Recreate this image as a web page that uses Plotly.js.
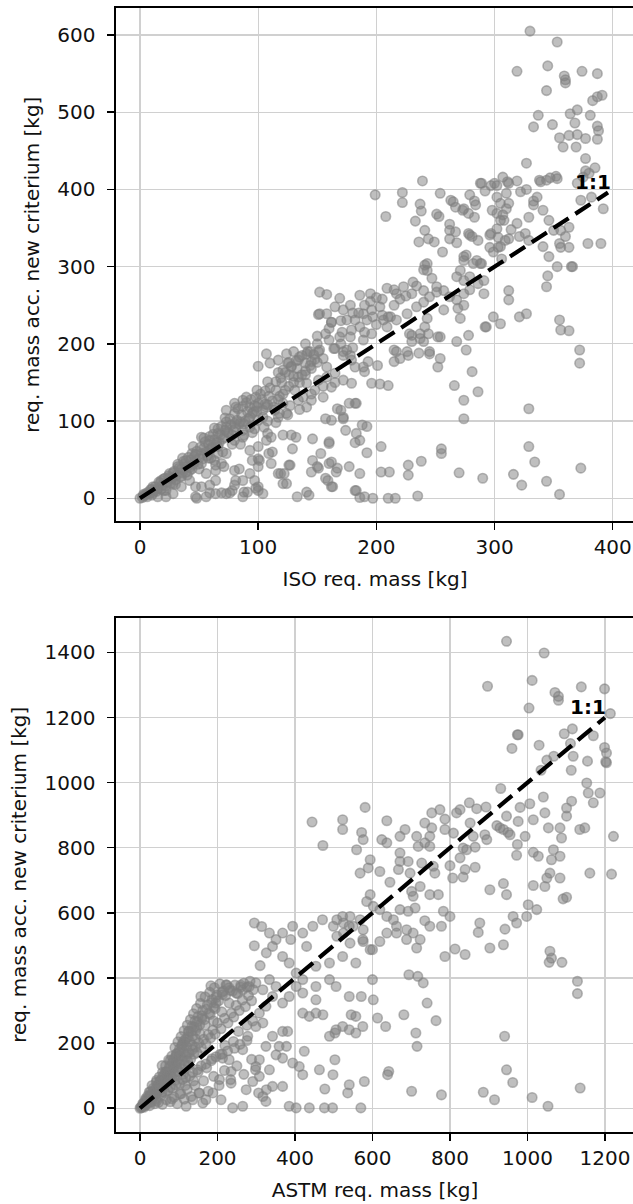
<!DOCTYPE html>
<html><head><meta charset="utf-8">
<script src="https://cdn.plot.ly/plotly-3.0.1.min.js"></script>
<style>html,body{margin:0;padding:0;overflow:hidden;background:#fff}#chart{width:634px;height:1204px}</style>
</head><body><div id="chart"></div><script>
// ISO (top panel): [ISO req. mass, req. mass acc. new criterium]
const isoPoints = [
[330,605],[353,591],[319,553],[345,560],[359,547],[360,542],[360,538],[374,553],[387,550],[344,528],[383,515],[387,520],[391,522],[337,496],[364,498],[370,503],[381,496],[333,481],[349,484],[368,486],[387,482],[388,476],[387,465],[355,467],[363,470],[370,471],[377,466],[358,455],[369,455],[377,440],[327,434],[352,417],[377,424],[385,428],[338,412],[347,415],[289,408],[300,408],[307,416],[319,411],[311,410],
[199,393],[208,365],[222,396],[222,383],[239,411],[233,359],[254,395],[237,381],[238,372],[251,368],[253,365],[241,347],[244,336],[236,332],[249,332],[263,386],[267,377],[262,355],[262,347],[262,336],[268,331],[256,319],[240,296],[243,304],[279,393],[288,408],[283,385],[284,380],[273,373],[278,369],[283,364],[278,343],[281,339],[286,334],[274,313],[285,308],[289,304],[271,295],[279,287],[292,398],[297,405],[302,390],[305,382],[310,375],[298,373],[302,369],[308,360],[297,343],[305,326],[309,334],[299,319],[306,310],[321,339],[326,343],[329,334],[314,348],[319,356],[329,364],[322,397],[327,400],[336,390],[339,410],[344,412],[353,414],[333,385],[333,380],[341,373],[346,360],[350,347],[341,326],[346,313],[345,288],[344,274],[353,300],[356,347],[360,339],[363,351],[355,330],[356,325],[363,325],[365,300],[366,300],[379,330],[390,330],[392,375],[373,386],[382,390],[370,408],[375,416],[380,421],
[265,384],[267,345],[274,375],[279,341],[296,341],[303,338],[296,325],[303,325],[305,360],[307,367],[302,349],[302,405],[312,408],[310,395],[312,382],[312,336],
[241,302],[243,295],[247,285],[251,274],[240,269],[234,275],[152,267],[158,264],[152,239],[169,259],[178,250],[186,263],[195,265],[209,272],[217,265],[223,274],[231,280],[162,228],[171,215],[178,209],[186,222],[192,231],[197,235],[205,237],[212,235],[217,231],[226,239],[234,248],[240,254],[245,261],[251,267],[257,269],[262,261],[268,257],[274,265],[279,270],[286,278],[291,282],[274,308],[276,315],[282,304],[288,304],[268,287],[274,282],[291,265],[299,235],[292,222],[268,203],[276,192],[312,269],[312,257],[252,209],[254,209],[243,233],[241,222],[228,213],[237,213],[240,203],[230,203],[217,190],[226,190],[236,188],[245,190],[135,183],[144,190],[152,192],[164,194],[172,190],[178,185],
[151,238],[157,213],[162,228],[193,177],[190,164],[201,172],[196,149],[203,148],[210,146],[215,177],[220,181],[227,185],[215,192],[230,211],[237,207],[244,213],[245,187],[254,181],[252,170],[257,244],[269,246],[274,250],[271,233],[278,211],[281,164],[286,138],[266,146],[274,127],[274,103],[293,222],[305,226],[321,235],[327,239],[329,116],[329,67],[334,47],[355,231],[356,218],[363,217],[372,192],[372,175],[373,39],[355,5],[344,22],[323,17],[316,31],[290,26],[270,33],[255,64],[255,58],[238,48],[227,43],[227,30],[235,3],[216,0],[210,0],[204,34],[211,34],[204,67],[197,0],[186,1],[182,10],[192,93],[186,75],[182,72],[192,59],[174,88],[177,123],[182,123],[167,39],[170,114],[172,103],[160,73],[162,47],[157,26],[162,15],[146,49],[151,39],[145,34],[141,8],[143,4],[133,2],[128,82],[129,64],[127,43],[122,32],[121,19],[112,60],[111,45],[117,32],[108,84],[107,75],[100,67],[100,51],[100,41],[100,15],[100,10],[93,62],[95,49],[93,32],[97,23],[88,8],[87,2],[80,36],[81,23],[80,17],[76,7],[69,7],[59,7],[48,0],[52,15],[59,17],[71,41],[64,43],
[160,71],[153,58],[150,41],[160,45],[177,41],[166,34],[159,23],[163,15],[183,10],[190,2],[186,32],[109,58],[126,43],[119,32],[124,19],[101,49],[84,38],[87,23],[78,10],[91,8],[98,13],[104,6],[73,6],[64,6],[56,2],[47,2],[47,15],[64,23],[64,36],[56,32],[132,79],[121,82],[111,79],[146,77],[167,116],[183,123],[157,103],[162,101],[172,105],[183,84],[188,95],[100,171],
[107,187],[110,175],[117,179],[124,187],[121,166],[128,170],[134,179],[141,187],[145,177],[151,190],[155,181],[158,170],[165,194],[172,185],[179,179],[175,192],[182,170],[189,170],[169,209],[179,218],[182,231],[189,239],[196,244],[203,248],[206,231],[209,222],[196,213],[189,205],[175,231],[172,244],[165,248],[158,239],
[73,114],[80,123],[87,127],[93,118],[100,123],[107,118],[114,114],[121,123],[93,105],[80,97],[73,92],[87,88],[104,105],[117,105],[124,110],[66,84],[59,75],[52,79],[59,62],[52,58],[46,54],[39,49],[32,41],[25,32],[18,23],[11,15],[5,6],[66,67],[73,58],[80,75],[87,79],[93,92],[100,101],
[52,45],[42,36],[35,28],[28,19],[22,10],[15,2],[42,23],[35,15],[28,6],[22,2],[63,49],[69,45],
[134,157],[141,149],[148,140],[138,131],[145,127],[151,153],[158,157],[165,162],[162,144],[172,153],[179,149],[155,131],[141,118],[131,140],[134,127],
[0,0],[2,1],[3,3],[5,4],[7,8],[8,6],[10,12],[12,10],[13,15],[15,12],[17,20],[19,17],[20,25],[23,21],[24,29],[27,26],[29,35],[31,30],[33,39],[36,33],[38,45],[40,41],[43,50],[45,44],[47,57],[50,52],[54,65],[56,60],[58,70],[61,66],[63,76],[65,72],[68,82],[70,77],[72,88],[75,84],[77,95],[79,88],[82,101],[84,96],[86,108],[89,100],[91,112],[95,110],[97,120],[99,113],[103,128],[106,122],[109,132],[112,126],[115,140],[118,132],[120,150],[123,140],[126,160],[130,150],[133,168],[137,160],[140,175],[145,168],[148,180],[10,4],[20,10],[30,18],[40,30],[50,38],[60,52],[70,60],[85,70],[95,85],[105,92],[115,98],[125,108],[135,115],[145,135],[155,145],[165,150],
[150,200],[160,205],[170,200],[180,195],[190,215],[200,225],[210,235],[185,240],[195,255],[205,258],[215,250],[220,258],[225,262],[230,265],[215,270],[200,260],[190,250],[180,240],[170,230],[160,220],[150,210],[140,200],[130,190],[125,175],[140,165],
[3,5],[6,2],[9,11],[11,7],[14,9],[16,21],[18,12],[21,26],[22,16],[25,27],[26,19],[28,33],[30,24],[32,44],[34,28],[35,38],[37,48],[39,34],[41,53],[42,40],[44,58],[46,47],[48,61],[49,44],[51,66],[53,51],[55,73],[57,55],[59,80],[60,64],[62,83],[64,69],[66,90],[67,72],[69,93],[71,79],[73,99],[74,86],[76,103],[78,82],[80,110],[81,92],[83,116],[85,99],[87,119],[88,96],[90,124],[92,103],[94,128],[96,112],[98,131],[99,118],[102,135],[104,114],[106,139],[108,121],[110,143],[113,118],[115,151],[117,128],[119,156],[121,135],[123,163],[126,145],[128,171],[130,158],[132,178],[135,150],[137,185],[140,160],[142,190],[144,172],[147,186],[150,176],[36,52],[45,67],[54,78],[63,91],[72,104],[81,118],[90,131],[99,140],[108,151],[117,163],[126,176],[44,38],[58,52],[66,58],[78,70],[88,82],[97,90],[108,100],[118,110],[127,120]
];

// ASTM (bottom panel): [ASTM req. mass, req. mass acc. new criterium]
const astmPoints = [
[946,1434],[1043,1398],[897,1296],[1012,1314],[1071,1277],[1080,1265],[1080,1253],[1139,1294],[1199,1288],[1004,1229],[1214,1212],[974,1147],[976,1147],[960,1105],[1030,1115],[1095,1150],[1116,1165],[1111,1120],[1170,1144],[1199,1108],[1204,1091],[1202,1064],[1050,1069],[1068,1081],[1118,1081],[1155,1066],[1035,1038],[1113,1038],[472,807],[444,879],
[523,886],[523,856],[581,924],[637,883],[572,847],[576,825],[559,794],[624,825],[637,815],[594,763],[589,738],[568,722],[619,727],[645,694],[671,784],[671,758],[667,733],[692,758],[697,722],[684,856],[671,835],[714,835],[718,804],[735,876],[753,907],[774,917],[787,888],[753,861],[748,835],[735,815],[748,804],[727,753],[757,743],[761,722],[723,681],[787,856],[809,845],[817,907],[826,917],[850,938],[869,920],[893,925],[852,876],[860,835],[890,840],[895,825],[834,799],[843,794],[865,802],[826,769],[800,745],[839,733],[865,740],[834,710],[807,707],[931,982],[921,868],[929,861],[938,856],[950,847],[955,840],[946,897],[976,881],[981,924],[1006,935],[1015,886],[994,835],[974,810],[972,777],[1015,786],[1028,774],[1062,763],[1084,774],[1067,794],[1041,956],[1045,907],[1054,861],[1084,861],[1088,830],[1101,922],[1101,897],[1114,943],[1135,856],[1148,861],[1153,999],[1157,968],[1170,938],[1187,968],[1204,1061],[1222,835],[1217,719],[1161,722],[1084,707],[1058,722],[1050,707],[1045,681],[1015,684],[1092,643],[1101,648],[938,690],[946,656],[903,671],
[1002,625],[1024,610],[998,589],[972,569],[963,589],[942,550],[938,502],[903,492],[877,569],[873,540],[813,489],[839,472],[787,466],[1058,482],[1062,461],[778,559],[748,559],[735,576],[710,615],[692,605],[671,610],[705,651],[701,666],[748,656],[770,656],[783,605],[800,589],
[594,656],[585,635],[602,620],[619,610],[637,589],[654,579],[662,559],[688,548],[705,538],[723,518],[714,492],[688,518],[662,538],[637,538],[619,512],[594,487],[576,512],[542,507],[525,538],[508,579],[542,589],[568,579],[576,548],[550,559],[525,569],[499,559],[508,528],
[1056,448],[1089,448],[1129,390],[1129,352],[941,221],[946,118],[962,79],[1012,33],[1053,6],[1136,62],[915,26],[886,49],[778,41],[701,52],[712,231],[715,190],[764,269],[741,323],[731,385],[717,405],[681,287],[694,410],[642,113],[639,103],[477,59],[368,67],[326,57],[306,47],[498,103],[503,149],[503,231],[545,287],[613,277],[634,251],[602,333],[571,343],[472,287],[326,477],[389,518],[430,497],
[213,154],[230,149],[235,113],[205,88],[188,47],[209,26],[239,1],[265,6],[274,57],[291,82],[308,98],[334,118],[342,67],[317,36],[325,21],[385,6],[403,1],[437,1],[476,1],[497,1],[540,72],[570,1],[579,82],[536,47],[463,118],[420,103],[411,128],[394,139],[424,175],[381,236],[368,236],[351,164],[359,190],[325,190],[342,221],[317,262],[299,251],[278,221],[265,180],[299,128],[308,149],[235,77],[153,47],[162,16],[136,26],[119,6],[170,26],[378,190],[368,154],
[420,292],[437,282],[454,292],[489,221],[506,241],[523,251],[540,241],[557,231],[575,251],[557,282],[540,343],[506,374],[489,395],[454,374],[420,395],[403,415],[454,436],[489,446],[523,466],[557,446],[600,395],[600,487],[575,518],[540,559],[523,589],[471,579],[446,559],[420,538],[394,559],[368,538],[351,518],[334,538],[342,497],[368,466],[385,446],[403,374],[385,343],[368,323],[420,354],[454,333],
[295,569],[314,558],[295,499],[310,438],[157,343],
[183,376],[222,379],[213,349],[196,323],[230,323],[248,354],[265,364],[282,374],[299,385],[317,364],[334,395],[351,374],[342,343],[325,313],[308,292],
[291,268],[276,255],[254,236],[241,205],[219,193],[207,166],[186,152],[172,124],[150,111],[138,84],[117,70],[103,44],[82,29],
[112,206],[125,236],[147,248],[160,276],[181,288],[194,306],[134,194],[121,166],[99,152],[86,124],[65,111],[52,84],[31,70],
[155,228],[168,255],[190,268],[211,296],[143,213],[78,146],[57,131],[43,86],[24,50],[15,30],[7,14],
[95,168],[108,194],[91,86],[78,64],[57,50],[43,23],[26,18],[112,104],[125,131],[69,85],
[0,0],[2,3],[6,7],[9,15],[11,14],[14,25],[17,24],[20,38],[23,33],[27,50],[30,42],[34,61],[38,56],[42,80],[46,70],[50,96],[54,84],[58,110],[62,98],[66,130],[70,112],[74,148],[78,128],[82,160],[86,150],[90,186],[94,166],[98,204],[102,182],[106,220],[110,198],[114,238],[118,212],[122,255],[126,236],[130,272],[134,252],[138,290],[142,268],[146,306],[150,282],[156,322],[162,300],[168,342],[174,318],[180,356],[186,334],[192,370],[198,348],[206,382],[215,360],[224,378],[233,362],
[12,12],[15,13],[21,29],[24,25],[28,42],[32,38],[36,55],[40,49],[44,70],[48,63],[52,85],[56,77],[60,100],[64,88],[68,112],[72,101],[76,128],[80,115],[84,140],[88,128],[92,158],[96,142],[100,172],[104,160],[108,188],[112,172],[116,204],[120,190],[124,220],[128,205],[132,236],[136,222],[140,250],[144,238],[148,266],[154,256],[160,284],[166,272],[172,304],[178,292],[184,324],[190,310],[196,340],[203,330],[212,356],[221,346],[230,370],[239,360],[245,378],[252,352],[260,372],
[4,2],[8,6],[13,10],[18,17],[25,22],[31,30],[35,35],[39,44],[43,46],[47,58],[51,55],[55,68],[59,65],[63,74],[67,78],[71,92],[75,84],[79,99],[83,96],[87,108],[91,104],[95,125],[99,114],[103,136],[107,122],[111,147],[115,134],[119,158],[123,144],[127,170],[131,152],[135,180],[139,166],[143,188],[147,170],[152,200],[158,186],[164,212],[170,198],[176,226],[182,216],[188,240],[194,228],[200,262],[209,244],[218,276],[227,262],[236,292],[242,280],[248,316],[256,300],[264,332],[272,312],[280,346],[288,330],[292,364],[276,372],[268,384],[284,390],[260,378],
[10,3],[15,9],[25,8],[30,20],[38,14],[42,30],[48,18],[55,40],[58,12],[64,48],[68,26],[72,55],[78,20],[84,62],[88,34],[92,72],[96,14],[102,76],[106,44],[110,88],[114,28],[118,94],[122,58],[128,98],[132,36],[136,110],[142,70],[148,118],[152,46],[158,130],[164,84],[170,136],[176,52],[184,146],[190,98],[196,158],[204,70],[212,166],[218,116],[226,176],[234,88],[244,184],[250,130],[258,196],[268,104],[276,208],[288,150],[298,118]
];

const isoTickVals = [0, 100, 200, 300, 400];
const isoYTickVals = [0, 100, 200, 300, 400, 500, 600];
const astmTickVals = [0, 200, 400, 600, 800, 1000, 1200];
const astmYTickVals = [0, 200, 400, 600, 800, 1000, 1200, 1400];
const isoLine = [0, 396];
const astmLine = [0, 1200];
const oneToOneLabel = '1:1';
const isoXTitle = 'ISO req. mass [kg]';
const astmXTitle = 'ASTM req. mass [kg]';
const yTitle = 'req. mass acc. new criterium [kg]';

const FONT = 'DejaVu Sans, Verdana, sans-serif';
const marker = {size: 9.5, color: 'rgba(128,128,128,0.5)', line: {color: 'rgba(128,128,128,0.55)', width: 1.6}};
const dashLine = {color: '#000', width: 4.2, dash: '18px,8px'};

const traces = [
  {type: 'scatter', mode: 'markers', x: isoPoints.map(p => p[0]), y: isoPoints.map(p => p[1]), marker, xaxis: 'x', yaxis: 'y', hoverinfo: 'skip'},
  {type: 'scatter', mode: 'lines', x: isoLine, y: isoLine, line: dashLine, xaxis: 'x', yaxis: 'y', hoverinfo: 'skip'},
  {type: 'scatter', mode: 'markers', x: astmPoints.map(p => p[0]), y: astmPoints.map(p => p[1]), marker, xaxis: 'x2', yaxis: 'y2', hoverinfo: 'skip'},
  {type: 'scatter', mode: 'lines', x: astmLine, y: astmLine, line: dashLine, xaxis: 'x2', yaxis: 'y2', hoverinfo: 'skip'}
];

function axis(extra) {
  return Object.assign({
    showline: true, mirror: true, linecolor: '#000', linewidth: 1.6,
    ticks: 'outside', ticklen: 7, tickwidth: 1.5, tickcolor: '#000',
    showgrid: true, gridcolor: '#d0d0d0', gridwidth: 1.2, zeroline: false,
    tickfont: {family: FONT, size: 20, color: '#111'},
    tickmode: 'array', fixedrange: true
  }, extra);
}

const titleFont = {family: FONT, size: 20, color: '#111'};
const layout = {
  width: 634, height: 1204,
  margin: {l: 116, r: 0, t: 8, b: 72},
  paper_bgcolor: '#fff', plot_bgcolor: '#fff',
  showlegend: false,
  font: {family: FONT, size: 20, color: '#111'},
  xaxis: axis({domain: [0, 1], anchor: 'y', range: [-20.3, 418], tickvals: isoTickVals, ticktext: isoTickVals.map(String),
    title: {text: isoXTitle, font: titleFont, standoff: 14}}),
  yaxis: axis({domain: [0.5432, 1], anchor: 'x', range: [-30, 635], tickvals: isoYTickVals, ticktext: isoYTickVals.map(String),
    ticklabelstandoff: 8, title: {text: yTitle, font: titleFont, standoff: 12}}),
  xaxis2: axis({domain: [0, 1], anchor: 'y2', range: [-62, 1275], tickvals: astmTickVals, ticktext: astmTickVals.map(String),
    title: {text: astmXTitle, font: titleFont, standoff: 14}}),
  yaxis2: axis({domain: [0, 0.4577], anchor: 'x2', range: [-73, 1507], tickvals: astmYTickVals, ticktext: astmYTickVals.map(String),
    ticklabelstandoff: 8, title: {text: yTitle, font: titleFont, standoff: 12}}),
  annotations: [
    {x: isoLine[1], y: isoLine[1], xref: 'x', yref: 'y', text: '<b>' + oneToOneLabel + '</b>', showarrow: false,
      xanchor: 'right', yanchor: 'bottom', xshift: 5, yshift: -3, font: {family: FONT, size: 20, color: '#000'}},
    {x: astmLine[1], y: astmLine[1], xref: 'x2', yref: 'y2', text: '<b>' + oneToOneLabel + '</b>', showarrow: false,
      xanchor: 'right', yanchor: 'bottom', xshift: 3, yshift: -3, font: {family: FONT, size: 20, color: '#000'}}
  ]
};

Plotly.newPlot('chart', traces, layout, {displayModeBar: false, staticPlot: true});
</script></body></html>
